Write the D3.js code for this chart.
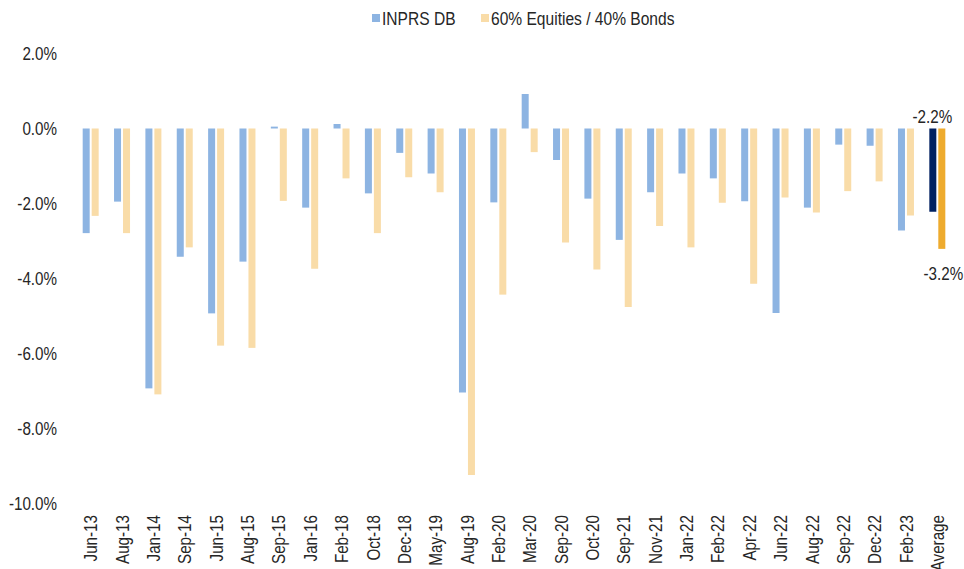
<!DOCTYPE html>
<html>
<head>
<meta charset="utf-8">
<script src="https://cdn.jsdelivr.net/npm/d3@7/dist/d3.min.js"></script>
<style>
  body { margin: 0; background: #fff; }
  text { font-family: "Liberation Sans", Arial, sans-serif; fill: #262626; }
</style>
</head>
<body>
<div id="chart"></div>
<script>
var categories = ["Jun-13","Aug-13","Jan-14","Sep-14","Jun-15","Aug-15","Sep-15","Jan-16","Feb-18","Oct-18",
  "Dec-18","May-19","Aug-19","Feb-20","Mar-20","Sep-20","Oct-20","Sep-21","Nov-21","Jan-22",
  "Feb-22","Apr-22","Jun-22","Aug-22","Sep-22","Dec-22","Feb-23","Average"];

var inprs = [-2.79,-1.95,-6.93,-3.42,-4.93,-3.55,0.05,-2.11,0.12,-1.73,
  -0.65,-1.20,-7.04,-1.97,0.92,-0.84,-1.87,-2.97,-1.70,-1.20,
  -1.33,-1.94,-4.92,-2.11,-0.43,-0.46,-2.72,-2.22];

var balanced = [-2.33,-2.79,-7.09,-3.17,-5.79,-5.85,-1.93,-3.74,-1.33,-2.79,
  -1.30,-1.70,-9.24,-4.43,-0.63,-3.04,-3.76,-4.76,-2.60,-3.17,
  -1.98,-4.14,-1.84,-2.24,-1.67,-1.41,-2.32,-3.21];

var seriesNames = ["INPRS DB", "60% Equities / 40% Bonds"];
var yTicks = [2, 0, -2, -4, -6, -8, -10];

var width = 964, height = 569;
var margin = {top: 53, right: 11, bottom: 66, left: 75};
var fontSize = "19px";
var squeeze = "scale(0.8,1)";   // narrow font look

// plain hyphen instead of unicode minus
var pct = function(d){ return d.toFixed(1) + "%"; };

var svg = d3.select("#chart").append("svg")
    .attr("width", width)
    .attr("height", height);

var x = d3.scaleBand()
    .domain(categories)
    .range([margin.left, width - margin.right])
    .paddingInner(0.49)
    .paddingOuter(0.245);

var xSub = d3.scaleBand()
    .domain([0, 1])
    .range([0, x.bandwidth()])
    .paddingInner(0.22);

var y = d3.scaleLinear()
    .domain([-10, 2])
    .range([503.5, 53.5]);

var colors = ["#8DB4E2", "#F9DCA8"];
var avgColors = ["#002060", "#EEAB2E"];

// y axis labels
svg.append("g")
    .attr("transform", "translate(57,0)")
    .call(d3.axisLeft(y).tickValues(yTicks).tickSize(0).tickPadding(0).tickFormat(pct))
    .call(function(g){ g.select(".domain").remove(); })
    .selectAll("text")
    .style("font-family", '"Liberation Sans", Arial, sans-serif')
    .attr("font-size", fontSize)
    .attr("fill", "#262626")
    .attr("transform", squeeze);

// bars
var data = [inprs, balanced];
data.forEach(function(vals, s){
  svg.append("g").selectAll("rect")
    .data(vals)
    .enter().append("rect")
    .attr("x", function(d, i){ return x(categories[i]) + xSub(s); })
    .attr("width", xSub.bandwidth())
    .attr("y", function(d){ return y(Math.max(0, d)); })
    .attr("height", function(d){ return Math.abs(y(d) - y(0)); })
    .attr("fill", function(d, i){ return categories[i] == "Average" ? avgColors[s] : colors[s]; });
});

// average labels
var last = categories.length - 1;
var cx = x("Average") + x.bandwidth() / 2;
svg.append("g")
    .attr("transform", "translate(" + (cx - 5) + "," + (y(0) - 6) + ")")
  .append("text")
    .attr("text-anchor", "middle")
    .attr("font-size", fontSize)
    .attr("transform", squeeze)
    .text(pct(inprs[last]));

svg.append("g")
    .attr("transform", "translate(" + (cx + 6) + "," + (y(balanced[last]) + 31) + ")")
  .append("text")
    .attr("text-anchor", "middle")
    .attr("font-size", fontSize)
    .attr("transform", squeeze)
    .text(pct(balanced[last]));

// x axis labels (rotated)
svg.append("g")
    .attr("transform", "translate(0,515)")
    .call(d3.axisBottom(x).tickSize(0).tickPadding(0))
    .call(function(g){ g.select(".domain").remove(); })
    .selectAll("text")
    .style("font-family", '"Liberation Sans", Arial, sans-serif')
    .attr("font-size", fontSize)
    .attr("fill", "#262626")
    .attr("text-anchor", "end")
    .attr("y", 0)
    .attr("dy", "0.35em")
    .attr("transform", "rotate(-90) " + squeeze);

// legend
var legendX = [372, 481];
seriesNames.forEach(function(name, s){
  svg.append("rect")
    .attr("x", legendX[s])
    .attr("y", 14)
    .attr("width", 8)
    .attr("height", 8)
    .attr("fill", colors[s]);
  svg.append("g")
    .attr("transform", "translate(" + (legendX[s] + 10) + ",18)")
  .append("text")
    .attr("dy", "0.35em")
    .attr("font-size", fontSize)
    .attr("transform", "scale(0.82,1)")
    .text(name);
});
</script>
</body>
</html>
